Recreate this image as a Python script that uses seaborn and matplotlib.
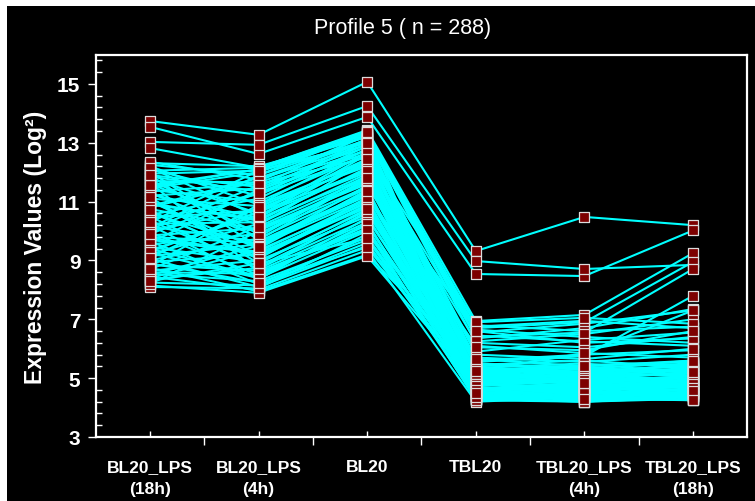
import numpy as np
import pandas as pd
import matplotlib
matplotlib.use("Agg")
import matplotlib.pyplot as plt
import seaborn as sns
from matplotlib import font_manager
from matplotlib.patches import Rectangle

# Conditions (x axis) and expression profiles (log2), one array per condition
conditions = ["BL20_LPS\n(18h)", "BL20_LPS\n(4h)", "BL20",
              "TBL20", "TBL20_LPS\n(4h)", "TBL20_LPS\n(18h)"]
profile_id = 5
n_genes = 288

bl20_lps_18h = [
    13.74, 13.54, 13.03, 12.82, 12.31, 11.90, 12.25, 12.10, 11.95, 11.80,
    11.70, 11.60, 11.50, 11.40, 11.30, 11.20, 11.10, 11.00, 10.90, 10.85,
    10.75, 10.65, 10.55, 10.45, 10.35, 10.25, 10.15, 10.05, 9.95, 9.85,
    9.75, 9.65, 9.55, 9.45, 9.35, 9.25, 9.15, 9.05, 8.95, 8.85,
    8.75, 8.65, 8.55, 8.45, 8.35, 8.25, 8.15, 8.10, 12.20, 12.00,
    11.85, 11.65, 11.45, 11.25, 11.05, 10.80, 10.60, 10.40, 10.20, 10.00,
    9.80, 9.60, 9.40, 9.20, 9.00, 8.80, 8.60, 8.40, 8.20, 12.35,
    12.05, 11.75, 11.35, 10.95, 10.50, 10.10, 9.70, 9.30, 8.90, 8.50,
    12.15, 11.55, 10.70, 9.90, 9.10, 8.30, 11.90, 10.30, 8.70, 11.15,
]
bl20_lps_4h = [
    13.27, 12.62, 12.93, 12.15, 12.20, 11.50, 11.90, 11.20, 12.05, 10.60,
    11.65, 10.20, 12.10, 11.00, 9.80, 11.45, 10.85, 9.40, 10.40, 11.80,
    10.05, 9.10, 11.25, 10.70, 8.80, 10.30, 9.65, 11.55, 8.50, 10.10,
    9.30, 8.20, 9.90, 8.95, 10.55, 8.40, 9.55, 8.10, 9.20, 8.65,
    7.95, 9.00, 8.30, 8.00, 8.75, 8.15, 7.90, 8.05, 10.90, 9.70,
    11.35, 8.60, 12.00, 10.45, 9.15, 11.70, 9.50, 11.10, 8.35, 10.75,
    9.60, 11.40, 8.45, 10.25, 9.75, 10.90, 8.55, 9.35, 10.00, 11.75,
    12.15, 9.90, 11.60, 10.35, 8.70, 11.90, 9.25, 10.65, 8.25, 9.50,
    10.50, 12.10, 9.05, 11.30, 10.80, 8.90, 9.45, 12.05, 10.15, 8.90,
]
bl20 = [
    15.07, 13.88, 14.25, 13.43, 13.20, 13.30, 13.35, 13.10, 13.00, 12.70,
    12.85, 12.40, 13.20, 12.60, 11.90, 12.95, 12.20, 11.40, 12.10, 13.05,
    11.70, 10.90, 12.55, 12.30, 10.60, 11.85, 11.30, 12.75, 10.20, 11.60,
    11.05, 9.80, 11.50, 10.70, 12.00, 10.00, 11.20, 9.50, 10.80, 10.30,
    9.20, 10.50, 9.70, 9.35, 10.40, 9.60, 9.15, 9.90, 12.80, 11.80,
    13.15, 10.10, 13.30, 12.45, 11.00, 13.25, 11.55, 12.90, 10.45, 12.25,
    11.25, 12.65, 10.25, 11.95, 11.45, 12.35, 10.05, 10.95, 11.65, 12.95,
    13.40, 11.75, 12.50, 12.15, 10.65, 13.10, 10.85, 12.05, 9.45, 11.10,
    12.60, 13.35, 11.15, 12.75, 12.45, 9.75, 11.35, 13.00, 11.80, 10.75,
]
tbl20 = [
    9.32, 8.54, 8.98, 6.94, 6.70, 6.40, 6.80, 6.55, 5.10, 4.85,
    5.35, 4.60, 6.20, 4.40, 5.00, 4.70, 5.25, 4.30, 4.95, 5.45,
    4.55, 4.80, 6.45, 4.25, 5.15, 4.65, 5.30, 4.45, 4.90, 5.50,
    4.35, 4.75, 6.10, 4.55, 5.05, 4.30, 4.85, 5.20, 4.60, 4.40,
    5.40, 4.70, 4.95, 4.20, 5.25, 4.50, 4.80, 5.35, 5.90, 6.65,
    4.50, 4.25, 6.35, 5.60, 5.05, 4.35, 6.75, 5.20, 4.75, 4.60,
    5.70, 4.85, 4.45, 5.45, 4.30, 6.25, 4.90, 5.10, 4.55, 5.80,
    4.65, 4.95, 5.00, 4.45, 5.35, 4.25, 4.70, 5.15, 4.80, 4.40,
    6.90, 6.60, 6.05, 5.55, 5.25, 4.35, 4.75, 5.65, 4.60, 4.50,
]
tbl20_lps_4h = [
    10.48, 8.47, 8.71, 7.15, 6.90, 6.55, 6.60, 6.85, 4.95, 5.05,
    5.20, 4.75, 6.05, 4.55, 4.80, 4.45, 5.40, 4.50, 5.15, 5.30,
    4.35, 4.65, 6.25, 4.40, 5.00, 4.85, 5.10, 4.30, 5.05, 5.35,
    4.20, 4.90, 5.85, 4.70, 5.25, 4.45, 4.60, 5.35, 4.80, 4.25,
    5.15, 4.55, 5.10, 4.35, 5.45, 4.65, 4.70, 5.50, 6.30, 6.40,
    4.65, 4.20, 6.70, 5.80, 4.85, 4.50, 6.95, 5.05, 4.95, 4.40,
    5.55, 5.00, 4.60, 5.60, 4.20, 6.50, 5.20, 4.90, 4.75, 5.65,
    4.80, 4.70, 5.15, 4.60, 5.20, 4.35, 4.50, 5.30, 5.00, 4.55,
    7.05, 6.20, 5.95, 5.75, 5.85, 4.50, 4.95, 5.40, 4.85, 4.30,
]
tbl20_lps_18h = [
    10.20, 10.02, 8.85, 9.25, 8.95, 8.71, 6.75, 7.30, 5.20, 4.70,
    5.45, 4.90, 6.40, 4.35, 5.10, 4.60, 5.05, 4.65, 5.35, 5.60,
    4.45, 4.85, 6.10, 4.55, 4.80, 5.00, 5.25, 4.40, 5.15, 5.50,
    4.30, 4.70, 5.70, 4.95, 5.40, 4.25, 4.75, 5.20, 4.55, 4.40,
    5.30, 4.85, 4.95, 4.50, 5.55, 4.60, 4.90, 5.15, 6.55, 6.20,
    4.80, 4.35, 7.35, 5.95, 4.65, 4.30, 6.70, 5.30, 5.05, 4.50,
    5.80, 4.90, 4.70, 5.35, 4.45, 7.00, 5.45, 5.00, 4.40, 6.00,
    4.95, 4.85, 5.50, 4.75, 5.05, 4.25, 4.60, 5.25, 5.20, 4.50,
    6.85, 6.35, 6.60, 7.80, 7.30, 4.80, 4.65, 5.60, 4.55, 4.25,
]

series = [bl20_lps_18h, bl20_lps_4h, bl20, tbl20, tbl20_lps_4h, tbl20_lps_18h]
records = []
for pos, values in enumerate(series):
    for gene, v in enumerate(values):
        records.append({"gene": gene, "pos": pos, "value": v})
long = pd.DataFrame(records).sort_values(["gene", "pos"])

# ---- style ---------------------------------------------------------------
sns.set_theme(style="dark")
installed = {f.name for f in font_manager.fontManager.ttflist}
narrow = "Liberation Sans Narrow" if "Liberation Sans Narrow" in installed else "Liberation Sans"
plt.rcParams["font.family"] = ["Liberation Sans", "DejaVu Sans"]

W, H = 755, 502
fig = plt.figure(figsize=(W / 100, H / 100), dpi=100, facecolor="white")
fig.patches.append(Rectangle((7 / W, 0), 1 - 7 / W, 1 - 7 / H,
                             transform=fig.transFigure, facecolor="black",
                             edgecolor="none", zorder=-10))

left, right, top, bottom = 95.7, 747.3, 55.5, 438.0
ax = fig.add_axes([left / W, 1 - bottom / H, (right - left) / W, (bottom - top) / H])
ax.set_facecolor("black")

sns.lineplot(data=long, x="pos", y="value", units="gene", estimator=None,
             sort=False, color="#00ffff", lw=1.5, ax=ax, legend=False, zorder=2)
sns.scatterplot(data=long, x="pos", y="value", marker="s", s=52,
                color="#7d0000", edgecolor="#dcdcdc", linewidth=0.9,
                ax=ax, legend=False, zorder=3)

ax.set_xlim(-0.5, 5.5)
ax.set_ylim(3, 16)
ax.grid(False)
for sp in ax.spines.values():
    sp.set_color("white")
    sp.set_linewidth(1.6)
    sp.set_visible(True)

# x axis: labels at conditions, outward ticks on boundaries
ax.set_xticks(range(len(conditions)))
ax.set_xticklabels(conditions, color="white", fontsize=12.5,
                   fontweight="bold", family=[narrow, "DejaVu Sans"],
                   linespacing=1.6)
ax.set_xticks(np.arange(0.5, 5.0, 1.0), minor=True)
ax.tick_params(axis="x", which="major", direction="in", length=4,
               width=1, color="white", pad=16, bottom=True)
ax.tick_params(axis="x", which="minor", direction="out", length=6,
               width=1, color="white", bottom=True)

# y axis
ax.set_yticks(np.arange(3, 16, 2))
ax.set_yticklabels([str(v) for v in range(3, 16, 2)], color="white",
                   fontsize=15, fontweight="bold")
ax.set_yticks(np.arange(3.4, 16, 0.4), minor=True)
ax.tick_params(axis="y", which="major", direction="out", length=6,
               width=1, color="white", pad=5, left=True)
ax.tick_params(axis="y", which="minor", direction="in", length=4,
               width=1, color="white", left=True)
ax.set_xlabel("")
ax.set_ylabel("")

fig.text(36 / W, 1 - 247 / H, "Expression Values (Log²)", rotation=90,
         ha="center", va="center", color="white", fontsize=16.5,
         fontweight="bold")
fig.text(403 / W, 1 - 29 / H, f"Profile {profile_id} ( n = {n_genes})",
         ha="center", va="center", color="white", fontsize=15.5,
         family=[narrow, "DejaVu Sans"])

fig.savefig("out.png", dpi=100, facecolor=fig.get_facecolor())
